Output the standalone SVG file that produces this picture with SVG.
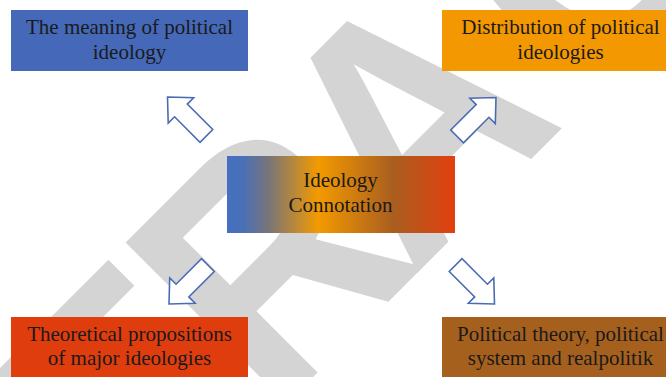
<svg xmlns="http://www.w3.org/2000/svg" width="666" height="377" viewBox="0 0 666 377">
  <style>
    .lbl { font-family: "Liberation Serif", "Times New Roman", serif; font-size: 21px; fill: #1a1a1a; text-anchor: middle; }
    .arrow { fill: #ffffff; stroke: #4a6cb3; stroke-width: 1.6; stroke-linejoin: miter; }
    .wm { font-family: "Liberation Sans", Arial, sans-serif; font-weight: bold; font-size: 331px; fill: #d4d4d4; }
  </style>
  <defs>
    <linearGradient id="centerFill" x1="0" y1="0" x2="1" y2="0">
      <stop offset="0" stop-color="#4470c0"/>
      <stop offset="0.07" stop-color="#4a70b8"/>
      <stop offset="0.18" stop-color="#77747a"/>
      <stop offset="0.40" stop-color="#f39a00"/>
      <stop offset="0.73" stop-color="#a95e1f"/>
      <stop offset="1" stop-color="#e2400f"/>
    </linearGradient>
    <!-- block arrow pointing up, tip at origin -->
    <path id="blockArrow" d="M0,0 L18,19 L9,19 L9,55 L-9,55 L-9,19 L-18,19 Z"/>
  </defs>

  <rect width="666" height="377" fill="#ffffff"/>

  <!-- diagonal watermark, slightly condensed -->
  <text class="wm" transform="rotate(-45) scale(0.92,1)" x="-775 -536 -315 -112 103 364 603 805 1026" y="488">RETRACTED</text>

  <g id="connectors">
    <use href="#blockArrow" class="arrow" transform="translate(167.5,97) rotate(-45)"/>
    <use href="#blockArrow" class="arrow" transform="translate(496,97.5) rotate(45)"/>
    <use href="#blockArrow" class="arrow" transform="translate(169,304) rotate(-135)"/>
    <use href="#blockArrow" class="arrow" transform="translate(494.5,304) rotate(135)"/>
  </g>

  <g id="node-center">
    <rect x="227" y="156" width="228" height="77" fill="url(#centerFill)"/>
    <text class="lbl" x="340.5" y="187">Ideology</text>
    <text class="lbl" x="340.5" y="211.5">Connotation</text>
  </g>

  <g id="node-meaning">
    <rect x="11" y="10" width="237" height="61" fill="#4569b8"/>
    <text class="lbl" x="129.5" y="33.5">The meaning of political</text>
    <text class="lbl" x="129.5" y="59">ideology</text>
  </g>

  <g id="node-distribution">
    <rect x="442" y="10" width="237" height="61" fill="#f39800"/>
    <text class="lbl" x="560.5" y="33.5">Distribution of political</text>
    <text class="lbl" x="560.5" y="59">ideologies</text>
  </g>

  <g id="node-propositions">
    <rect x="11" y="317" width="237" height="61" fill="#e03d0f"/>
    <text class="lbl" x="129.5" y="340.5">Theoretical propositions</text>
    <text class="lbl" x="129.5" y="365">of major ideologies</text>
  </g>

  <g id="node-theory">
    <rect x="442" y="317" width="237" height="61" fill="#a6601e"/>
    <text class="lbl" x="560.5" y="340.5">Political theory, political</text>
    <text class="lbl" x="560.5" y="365">system and realpolitik</text>
  </g>
</svg>
